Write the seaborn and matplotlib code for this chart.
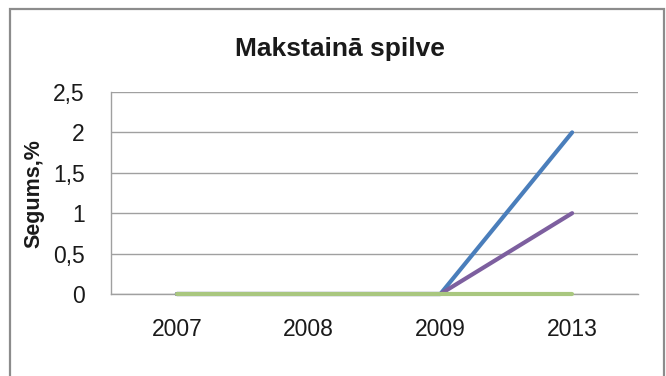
import matplotlib
matplotlib.use("Agg")
import matplotlib.pyplot as plt
import seaborn as sns
import pandas as pd
from matplotlib.patches import Rectangle

years = ["2007", "2008", "2009", "2013"]
series_names = ["S1", "S2", "S3"]
blue_values = [0, 0, 0, 2]
purple_values = [0, 0, 0, 1]
green_values = [0, 0, 0, 0]
colors = ["#4A7EBB", "#7D5F9F", "#A9C77F"]
y_ticks = [0, 0.5, 1, 1.5, 2, 2.5]
y_tick_labels = ["0", "0,5", "1", "1,5", "2", "2,5"]
title = "Makstainā spilve"
y_label = "Segums,%"

sns.set_theme(style="white")
plt.rcParams["font.family"] = ["Liberation Sans", "DejaVu Sans"]

rows = []
for name, vals in zip(series_names, [blue_values, purple_values, green_values]):
    for y, v in zip(years, vals):
        rows.append({"year": y, "value": v, "series": name})
df = pd.DataFrame(rows)

fig = plt.figure(figsize=(6.66, 3.76), dpi=100)
fig.patch.set_facecolor("white")
ax = fig.add_axes([111 / 666, 1 - 294 / 376, 527 / 666, 202 / 376])

sns.lineplot(data=df, x="year", y="value", hue="series", palette=colors,
             sort=False, linewidth=3.0, legend=False, ax=ax,
             solid_capstyle="round", clip_on=False)

ax.set_xlim(-0.5, 3.5)
ax.set_ylim(0, 2.5)
ax.set_yticks(y_ticks, labels=y_tick_labels)
ax.yaxis.grid(True, color="#A0A0A0", linewidth=1.0)
ax.set_axisbelow(True)
for s in ["top", "right"]:
    ax.spines[s].set_visible(False)
ax.spines["left"].set_color("#A0A0A0")
ax.spines["bottom"].set_color("#A0A0A0")
ax.spines["left"].set_linewidth(1.0)
ax.spines["bottom"].set_linewidth(1.0)
ax.spines["left"].set_zorder(0.5)
ax.spines["bottom"].set_zorder(0.5)
ax.tick_params(axis="both", length=0, labelsize=16.5, colors="#1a1a1a")
ax.tick_params(axis="y", pad=19)
ax.tick_params(axis="x", pad=17)
ax.set_xlabel("")
ax.set_ylabel("")

fig.text(34 / 666, 1 - 194 / 376, y_label, rotation=90, ha="center", va="center",
         fontsize=15.5, fontweight="bold", color="#1a1a1a")
fig.text(340 / 666, 1 - 49 / 376, title, ha="center", va="center",
         fontsize=19, fontweight="bold", color="#1a1a1a")

fig.patches.append(Rectangle((10 / 666, -0.1), 654 / 666, 1.1 - 9 / 376,
                             transform=fig.transFigure, fill=False,
                             edgecolor="#8C8C8C", linewidth=1.6))

fig.savefig("out.png", dpi=100)
